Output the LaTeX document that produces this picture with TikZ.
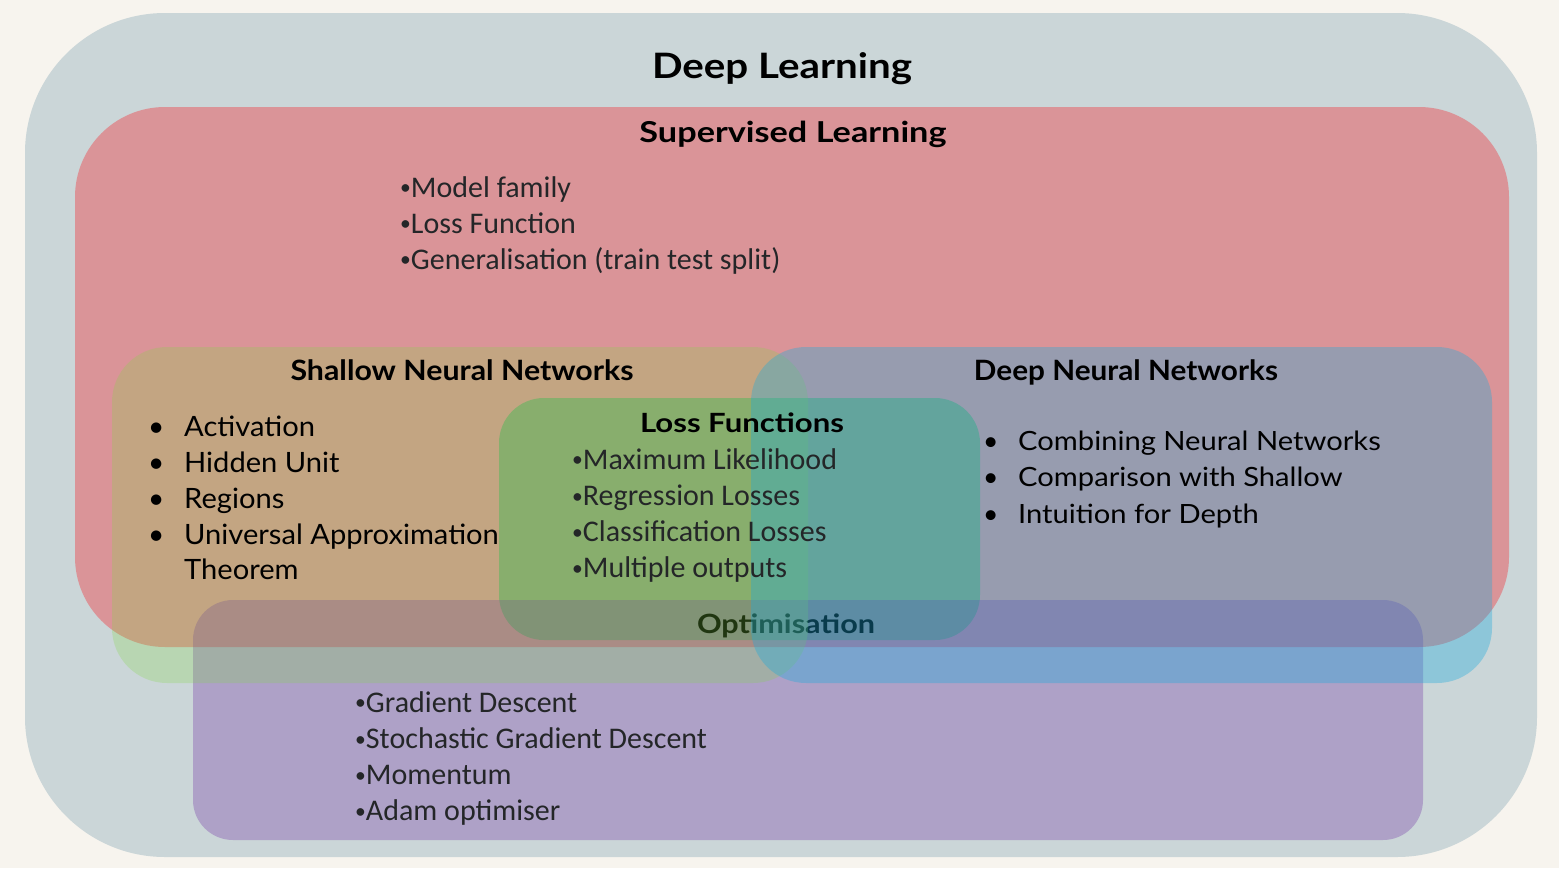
\documentclass[tikz,border=0pt]{standalone}
\usepackage{fontspec}
\usepackage{graphicx}
\setmainfont{Carlito}
\newfontfamily\headfont{Lato}
\usetikzlibrary{positioning}

\definecolor{paper}{HTML}{F7F4EE}
\definecolor{dlfill}{HTML}{CBD6D8}
\definecolor{slfill}{HTML}{DA9498}
\definecolor{lossfill}{HTML}{8BA17C}
\definecolor{optfill}{HTML}{6B28A3}
\definecolor{snnfill}{HTML}{82D844}
\definecolor{dnnfill}{HTML}{1BABDC}
\definecolor{itemgray}{HTML}{242628}

% heading stretched to a set width, keeping its height
\newcommand\fitw[2]{\resizebox{#1}{\height}{#2}}
% small raised bullet for the Calibri-style topic lists
\newcommand\sbul{\raisebox{2.2pt}{\scalebox{0.72}{\textbullet}}}

\tikzset{
  title/.style={inner sep=0pt, anchor=base, font=\headfont\bfseries\fontsize{28}{34}\selectfont},
  itemC/.style={inner sep=0pt, anchor=base west, text=itemgray, font=\fontsize{30}{36}\selectfont},
  itemA/.style={inner sep=0pt, anchor=base west, font=\headfont\fontsize{28}{36}\selectfont},
  itemN/.style={inner sep=0pt, anchor=base west, font=\headfont\fontsize{26.5}{36}\selectfont},
}

\begin{document}
\begin{tikzpicture}[x=1pt, y=-1pt]
  % page and outer region
  \fill[paper] (0,0) rectangle (1559,868);
  \useasboundingbox (0,0) rectangle (1559,868);
  \fill[dlfill, rounded corners=140pt] (25,13) rectangle (1537,857);

  % supervised learning region
  \fill[slfill, rounded corners=90pt] (75,107) rectangle (1509,647);

  % loss functions region
  \fill[lossfill, rounded corners=45pt] (499,398) rectangle (980,640);

  % optimisation region and its heading
  \fill[optfill, fill opacity=0.3, rounded corners=40pt] (193,600) rectangle (1423,840);
  \node[title, font=\headfont\bfseries\fontsize{26.5}{32}\selectfont] (optT) at (786,633) {\fitw{178pt}{Optimisation}};

  % shallow and deep network regions
  \fill[snnfill, fill opacity=0.25, rounded corners=55pt] (112,347) rectangle (808,683);
  \fill[dnnfill, fill opacity=0.35, rounded corners=55pt] (751,347) rectangle (1492,683);

  % headings
  \node[title, font=\headfont\bfseries\fontsize{35}{42}\selectfont] (dlT) at (782,78) {\fitw{260pt}{Deep Learning}};
  \node[title, font=\headfont\bfseries\fontsize{28.8}{34}\selectfont] (slT) at (793,142.5) {\fitw{307pt}{Supervised Learning}};
  \node[title] (snnT) at (462,380) {\fitw{343pt}{Shallow Neural Networks}};
  \node[title] (dnnT) at (1126,380) {\fitw{304pt}{Deep Neural Networks}};
  \node[title, font=\headfont\bfseries\fontsize{26.5}{32}\selectfont] (lossT) at (742,432) {\fitw{204pt}{Loss Functions}};

  % supervised learning topics
  \foreach \t [count=\i] in {Model family, Loss Function, Generalisation (train test split)}
    \node[itemC] (sl\i) at (400,{197+36*(\i-1)}) {\sbul\t};

  % loss function topics
  \foreach \t [count=\i] in {Maximum Likelihood, Regression Losses, Classification Losses, Multiple outputs}
    \node[itemC] (lf\i) at (572,{469+36.3*(\i-1)}) {\sbul\t};

  % optimisation topics
  \foreach \t [count=\i] in {Gradient Descent, Stochastic Gradient Descent, Momentum, Adam optimiser}
    \node[itemC] (op\i) at (355,{712+36.3*(\i-1)}) {\sbul\t};

  % shallow network topics
  \foreach \t [count=\i] in {Activation, Hidden Unit, Regions, Universal Approximation}
    \node[itemA] (sn\i) at (148,{436+36*(\i-1)}) {\makebox[36pt][l]{\textbullet}\scalebox{1.04}[1]{\t}};
  \node[itemA] (sn5) at (184,579) {\scalebox{1.04}[1]{Theorem}};

  % deep network topics
  \foreach \t [count=\i] in {Combining Neural Networks, Comparison with Shallow, Intuition for Depth}
    \node[itemN] (dn\i) at (983,{450+36.5*(\i-1)}) {\makebox[35pt][l]{\textbullet}\scalebox{1.1}[1]{\t}};
\end{tikzpicture}
\end{document}
